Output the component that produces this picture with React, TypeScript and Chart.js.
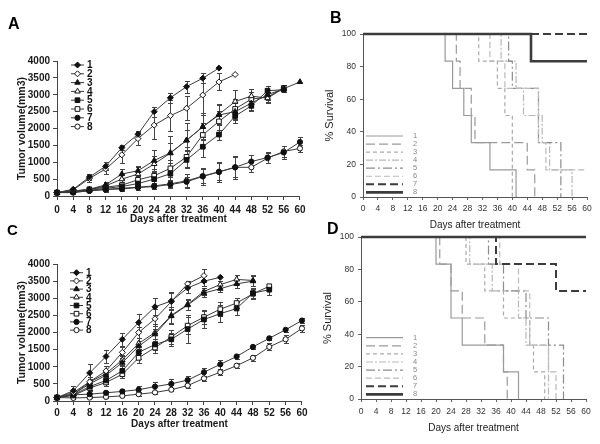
import React, { useEffect, useRef } from "react";
import { Chart, registerables } from "chart.js";
import { drawPoint } from "chart.js/helpers";
Chart.register(...registerables);

const FONT = "'Liberation Sans', Arial, Helvetica, sans-serif";

// ---------- shared ----------
const DAYS = [0, 4, 8, 12, 16, 20, 24, 28, 32, 36, 40, 44, 48, 52, 56, 60];
const GROUPS = ["1", "2", "3", "4", "5", "6", "7", "8"];

// ---------- Panel A : tumor volume ----------
const A_1 = [100, 200, 560, 880, 1430, 1830, 2500, 2910, 3240, 3490, 3790];
const A_1_ERR = [20, 40, 80, 120, 80, 100, 150, 150, 180, 150, 0];
const A_2 = [100, 180, 520, 800, 1220, 1700, 2100, 2380, 2600, 2990, 3380, 3600];
const A_2_ERR = [20, 30, 100, 150, 250, 200, 400, 450, 350, 520, 250, 0];
const A_3 = [100, 150, 200, 330, 650, 750, 1050, 1280, 1650, 2050, 2400, 2500, 2750, 3000, 3180, 3380];
const A_3_ERR = [20, 30, 50, 80, 150, 150, 300, 500, 500, 400, 300, 250, 200, 150, 100, 0];
const A_4 = [100, 140, 190, 300, 500, 650, 950, 1270, 1650, 2050, 2420, 2800, 2960, 2900, 3190];
const A_4_ERR = [20, 30, 50, 80, 150, 200, 250, 300, 300, 350, 300, 350, 200, 150, 100];
const A_5 = [100, 120, 170, 230, 280, 370, 500, 660, 1070, 1460, 1820, 2370, 2670, 3120, 3150];
const A_5_ERR = [20, 20, 40, 60, 80, 120, 150, 200, 250, 300, 150, 200, 150, 150, 0];
const A_6 = [100, 130, 200, 260, 320, 480, 600, 820, 1160, 1810, 2210, 2580, 2870, 2930, 3200];
const A_6_ERR = [20, 30, 50, 80, 100, 150, 200, 250, 300, 350, 300, 300, 200, 150, 0];
const A_7 = [100, 110, 150, 190, 210, 250, 280, 340, 420, 580, 710, 850, 1020, 1140, 1290, 1600];
const A_7_ERR = [20, 20, 40, 60, 60, 80, 80, 100, 150, 250, 300, 350, 200, 150, 200, 150];
const A_8 = [100, 100, 160, 200, 230, 260, 300, 360, 450, 590, 720, 850, 850, 1120, 1320, 1410];
const A_8_ERR = [20, 20, 40, 60, 60, 80, 80, 100, 200, 200, 250, 300, 150, 150, 150, 100];

// ---------- Panel C : tumor volume ----------
const C_1 = [100, 300, 820, 1300, 1800, 2290, 2750, 2920, 3300, 3500, 3610];
const C_1_ERR = [30, 150, 250, 200, 200, 250, 250, 250, 150, 150, 0];
const C_2 = [100, 250, 560, 880, 1420, 2000, 2400, 2900, 3420, 3660];
const C_2_ERR = [30, 100, 150, 150, 150, 150, 300, 250, 80, 200];
const C_3 = [100, 200, 500, 750, 1120, 1600, 1950, 2480, 2800, 3150, 3280, 3420, 3500];
const C_3_ERR = [30, 80, 100, 100, 200, 150, 250, 200, 150, 100, 100, 120, 150];
const C_4 = [100, 200, 550, 800, 1200, 1680, 2000, 2500, 2820, 3200, 3400, 3550, 3520];
const C_4_ERR = [30, 80, 100, 100, 150, 150, 250, 250, 150, 100, 100, 120, 150];
const C_5 = [100, 180, 420, 600, 880, 1420, 1650, 1800, 2100, 2380, 2550, 2700, 3150, 3250];
const C_5_ERR = [30, 60, 100, 100, 150, 200, 150, 200, 400, 250, 250, 200, 150, 150];
const C_6 = [100, 160, 380, 540, 780, 1260, 1560, 1870, 2200, 2450, 2680, 2860, 3130, 3350];
const C_6_ERR = [30, 60, 100, 100, 120, 150, 150, 200, 250, 200, 200, 150, 150, 80];
const C_7 = [100, 180, 200, 240, 280, 330, 420, 500, 610, 840, 1070, 1300, 1580, 1830, 2080, 2350];
const C_7_ERR = [20, 60, 40, 40, 60, 100, 130, 150, 130, 130, 130, 80, 60, 60, 60, 80];
const C_8 = [100, 90, 100, 120, 150, 200, 250, 330, 450, 660, 840, 1030, 1260, 1580, 1800, 2120];
const C_8_ERR = [20, 20, 20, 30, 40, 50, 50, 50, 60, 80, 80, 80, 80, 100, 120, 100];

// ---------- Panel B : survival (event days / % surviving) ----------
const B_DAYS = [
  [0, 22, 24, 27, 29, 34, 41],
  [0, 25, 26, 29, 30, 44, 46],
  [0, 31, 36, 38, 40],
  [0, 37, 41, 43, 48, 50, 56],
  [0, 39, 40, 47, 53],
  [0, 34, 38, 47, 49, 60],
  [0, 60],
  [0, 45, 60],
];
const B_PCT = [
  [100, 83.3, 66.7, 50, 33.3, 16.7, 0],
  [100, 83.3, 66.7, 50, 33.3, 16.7, 0],
  [100, 83.3, 66.7, 50, 0],
  [100, 83.3, 66.7, 50, 33.3, 16.7, 0],
  [100, 83.3, 66.7, 33.3, 0],
  [100, 83.3, 66.7, 33.3, 16.7, 16.7],
  [100, 100],
  [100, 83.3, 83.3],
];

// ---------- Panel D : survival ----------
const D_DAYS = [
  [0, 20, 24, 27, 38, 42],
  [0, 21, 24, 27, 33, 38, 39],
  [0, 28, 33, 38, 45, 46, 49],
  [0, 29, 35, 42, 44, 50],
  [0, 34, 38, 44, 50, 54],
  [0, 37, 42, 45, 50, 52],
  [0, 36, 52, 60],
  [0, 60],
];
const D_PCT = [
  [100, 83.3, 50, 33.3, 16.7, 0],
  [100, 83.3, 66.7, 50, 33.3, 16.7, 0],
  [100, 83.3, 66.7, 50, 33.3, 16.7, 0],
  [100, 83.3, 66.7, 50, 33.3, 0],
  [100, 83.3, 66.7, 50, 33.3, 0],
  [100, 83.3, 66.7, 33.3, 16.7, 0],
  [100, 83.3, 66.7, 66.7],
  [100, 100],
];

// ---------- styles ----------
const MARKER_STYLE = ["rectRot", "rectRot", "triangle", "triangle", "rect", "rect", "circle", "circle"];
const MARKER_FILLED = [true, false, true, false, true, false, true, false];
const MARKER_RADIUS = [3, 3, 3.2, 3.2, 3.3, 3.3, 2.6, 2.6];
const LINE_COLOR = "#3a3a3a";

const SURV_COLOR = ["#9a9a9a", "#9a9a9a", "#aaaaaa", "#b8b8b8", "#8c8c8c", "#bbbbbb", "#3c3c3c", "#3c3c3c"];
const SURV_DASH = [[], [9, 4], [4, 3], [7, 2, 2, 2], [9, 3, 2, 3], [6, 3], [8, 4], []];
const SURV_WIDTH = [1.2, 1.2, 1.2, 1.2, 1.2, 1.2, 2, 2.6];

const plainTick = (v: any) => String(v);

// ---------- plugins ----------
const errorBarPlugin = {
  id: "errorBars",
  beforeDatasetsDraw(chart: any) {
    const ctx = chart.ctx;
    const ys = chart.scales.y;
    ctx.save();
    ctx.strokeStyle = "#444";
    ctx.lineWidth = 1;
    chart.data.datasets.forEach((ds: any, di: number) => {
      const errs = ds.errors;
      if (!errs) return;
      const meta = chart.getDatasetMeta(di);
      meta.data.forEach((pt: any, i: number) => {
        const e = errs[i];
        if (!e) return;
        const v = ds.data[i].y;
        const x = Math.round(pt.x) + 0.5;
        const yt = Math.round(ys.getPixelForValue(v + e)) + 0.5;
        const yb = Math.round(ys.getPixelForValue(Math.max(0, v - e))) + 0.5;
        ctx.beginPath();
        ctx.moveTo(x, yt);
        ctx.lineTo(x, yb);
        ctx.moveTo(x - 2.5, yt);
        ctx.lineTo(x + 2.5, yt);
        ctx.moveTo(x - 2.5, yb);
        ctx.lineTo(x + 2.5, yb);
        ctx.stroke();
      });
    });
    ctx.restore();
  },
};

function letterPlugin(letter: string, x: number, y: number, size: number) {
  return {
    id: "letter" + letter,
    afterDraw(chart: any) {
      const ctx = chart.ctx;
      ctx.save();
      ctx.fillStyle = "#000";
      ctx.font = `bold ${size}px ${FONT}`;
      ctx.textBaseline = "top";
      ctx.textAlign = "left";
      ctx.fillText(letter, x, y);
      ctx.restore();
    },
  };
}

function growthLegendPlugin(x0: number, y0: number, dy: number) {
  return {
    id: "gLegend",
    afterDraw(chart: any) {
      const ctx = chart.ctx;
      ctx.save();
      chart.data.datasets.forEach((ds: any, i: number) => {
        const y = y0 + i * dy;
        ctx.setLineDash([]);
        ctx.strokeStyle = LINE_COLOR;
        ctx.lineWidth = 1;
        ctx.beginPath();
        ctx.moveTo(x0, y);
        ctx.lineTo(x0 + 13, y);
        ctx.stroke();
        ctx.fillStyle = ds.pointBackgroundColor;
        ctx.strokeStyle = ds.pointBorderColor;
        drawPoint(ctx, { pointStyle: ds.pointStyle, radius: ds.pointRadius, rotation: 0, borderWidth: 1 } as any, x0 + 6.5, y);
        ctx.fillStyle = "#111";
        ctx.font = `bold 10px ${FONT}`;
        ctx.textBaseline = "middle";
        ctx.textAlign = "left";
        ctx.fillText(ds.label, x0 + 16, y + 0.5);
      });
      ctx.restore();
    },
  };
}

function survLegendPlugin(x0: number, y0: number, dy: number) {
  return {
    id: "sLegend",
    afterDraw(chart: any) {
      const ctx = chart.ctx;
      ctx.save();
      chart.data.datasets.forEach((ds: any, i: number) => {
        const y = y0 + i * dy;
        ctx.setLineDash(ds.borderDash || []);
        ctx.strokeStyle = ds.borderColor;
        ctx.lineWidth = ds.borderWidth;
        ctx.beginPath();
        ctx.moveTo(x0, y);
        ctx.lineTo(x0 + 37, y);
        ctx.stroke();
        ctx.setLineDash([]);
        ctx.fillStyle = "#888";
        ctx.font = `7.5px ${FONT}`;
        ctx.textBaseline = "middle";
        ctx.textAlign = "left";
        ctx.fillText(ds.label, x0 + 47, y);
      });
      ctx.restore();
    },
  };
}

// ---------- config builders ----------
function growthDatasets(series: number[][], errors: number[][]) {
  return series.map((vals, i) => ({
    label: GROUPS[i],
    data: vals.map((v, k) => ({ x: DAYS[k], y: v })),
    errors: errors[i],
    borderColor: LINE_COLOR,
    borderWidth: 1,
    pointStyle: MARKER_STYLE[i],
    pointRadius: MARKER_RADIUS[i],
    pointBackgroundColor: MARKER_FILLED[i] ? "#111" : "#fff",
    pointBorderColor: "#111",
    pointBorderWidth: 1,
    tension: 0,
    clip: false,
  }));
}

function survDatasets(days: number[][], pct: number[][]) {
  return days.map((ds, i) => ({
    label: GROUPS[i],
    data: ds.map((d, k) => ({ x: d, y: pct[i][k] })),
    stepped: true,
    borderColor: SURV_COLOR[i],
    borderDash: SURV_DASH[i],
    borderWidth: SURV_WIDTH[i],
    pointRadius: 0,
    order: 7 - i,
    clip: false,
  }));
}

function growthConfig(opts: any) {
  const { datasets, padTop, padRight, yWidth, xHeight, xTickPad, xTitlePadBottom, letter, legend } = opts;
  return {
    type: "line",
    data: { datasets },
    options: {
      animation: false,
      responsive: false,
      maintainAspectRatio: false,
      devicePixelRatio: 1,
      events: [],
      layout: { padding: { left: 0, right: padRight, top: padTop, bottom: 0 } },
      plugins: { legend: { display: false }, tooltip: { enabled: false } },
      scales: {
        x: {
          type: "linear",
          min: 0,
          max: 60,
          afterFit: (s: any) => {
            s.height = xHeight;
          },
          ticks: {
            stepSize: 4,
            autoSkip: false,
            maxRotation: 0,
            padding: xTickPad,
            color: "#1a1a1a",
            callback: plainTick,
            font: { family: FONT, size: 10, weight: "bold" },
          },
          grid: { drawOnChartArea: false, tickLength: 4, color: "#444" },
          border: { color: "#444", width: 1 },
          title: {
            display: true,
            text: "Days after treatment",
            color: "#1a1a1a",
            font: { family: FONT, size: 10, weight: "bold" },
            padding: { top: 0, bottom: xTitlePadBottom },
          },
        },
        y: {
          min: 0,
          max: 4000,
          afterFit: (s: any) => {
            s.width = yWidth;
          },
          ticks: {
            stepSize: 500,
            padding: 3,
            color: "#1a1a1a",
            callback: plainTick,
            font: { family: FONT, size: 10, weight: "bold" },
          },
          grid: { drawOnChartArea: false, tickLength: 4, color: "#444" },
          border: { color: "#444", width: 1 },
          title: {
            display: true,
            text: "Tumor volume(mm3)",
            color: "#1a1a1a",
            font: { family: FONT, size: 10.5, weight: "bold" },
            padding: { top: 16, bottom: 0 },
          },
        },
      },
    },
    plugins: [errorBarPlugin, growthLegendPlugin(legend[0], legend[1], legend[2]), letterPlugin(letter[0], letter[1], letter[2], letter[3])],
  };
}

function survConfig(opts: any) {
  const { datasets, padTop, padRight, yWidth, xHeight, xTickPad, xTitlePadBottom, yTitlePadTop, letter, legend } = opts;
  return {
    type: "line",
    data: { datasets },
    options: {
      animation: false,
      responsive: false,
      maintainAspectRatio: false,
      devicePixelRatio: 1,
      events: [],
      layout: { padding: { left: 0, right: padRight, top: padTop, bottom: 0 } },
      plugins: { legend: { display: false }, tooltip: { enabled: false } },
      scales: {
        x: {
          type: "linear",
          min: 0,
          max: 60,
          afterFit: (s: any) => {
            s.height = xHeight;
          },
          ticks: {
            stepSize: 4,
            autoSkip: false,
            maxRotation: 0,
            padding: xTickPad,
            color: "#333",
            callback: plainTick,
            font: { family: FONT, size: 8.5 },
          },
          grid: { drawOnChartArea: false, tickLength: 3, color: "#666" },
          border: { color: "#555", width: 1 },
          title: {
            display: true,
            text: "Days after treatment",
            color: "#222",
            font: { family: FONT, size: 10 },
            padding: { top: 0, bottom: xTitlePadBottom },
          },
        },
        y: {
          min: 0,
          max: 100,
          afterFit: (s: any) => {
            s.width = yWidth;
          },
          ticks: {
            stepSize: 20,
            padding: 4,
            color: "#333",
            callback: plainTick,
            font: { family: FONT, size: 8.5 },
          },
          grid: { drawOnChartArea: false, tickLength: 3, color: "#666" },
          border: { color: "#555", width: 1 },
          title: {
            display: true,
            text: "% Survival",
            color: "#222",
            font: { family: FONT, size: 11 },
            padding: { top: yTitlePadTop, bottom: 0 },
          },
        },
      },
    },
    plugins: [survLegendPlugin(legend[0], legend[1], legend[2]), letterPlugin(letter[0], letter[1], letter[2], letter[3])],
  };
}

function ChartBox({ left, top, width, height, make }: any) {
  const ref = useRef<HTMLCanvasElement | null>(null);
  useEffect(() => {
    if (!ref.current) return;
    const chart = new Chart(ref.current, make());
    return () => chart.destroy();
  }, []);
  return (
    <canvas
      ref={ref}
      width={width}
      height={height}
      style={{ position: "absolute", left, top, width, height }}
    />
  );
}

export default function App() {
  return (
    <div style={{ position: "absolute", left: 0, top: 0, width: 600, height: 444, background: "#fff", overflow: "hidden" }}>
      <ChartBox
        left={0}
        top={0}
        width={310}
        height={230}
        make={() =>
          growthConfig({
            datasets: growthDatasets([A_1, A_2, A_3, A_4, A_5, A_6, A_7, A_8], [A_1_ERR, A_2_ERR, A_3_ERR, A_4_ERR, A_5_ERR, A_6_ERR, A_7_ERR, A_8_ERR]),
            padTop: 61,
            padRight: 7,
            yWidth: 57,
            xHeight: 34,
            xTickPad: 4.5,
            xTitlePadBottom: 5,
            letter: ["A", 8, 17, 16],
            legend: [71, 65, 8.8],
          })
        }
      />
      <ChartBox
        left={300}
        top={0}
        width={300}
        height={232}
        make={() =>
          survConfig({
            datasets: survDatasets(B_DAYS, B_PCT),
            padTop: 34,
            padRight: 13,
            yWidth: 63,
            xHeight: 35,
            xTickPad: 4,
            xTitlePadBottom: 1,
            yTitlePadTop: 23,
            letter: ["B", 30, 11, 16],
            legend: [66, 136, 8.05],
          })
        }
      />
      <ChartBox
        left={0}
        top={222}
        width={310}
        height={222}
        make={() =>
          growthConfig({
            datasets: growthDatasets([C_1, C_2, C_3, C_4, C_5, C_6, C_7, C_8], [C_1_ERR, C_2_ERR, C_3_ERR, C_4_ERR, C_5_ERR, C_6_ERR, C_7_ERR, C_8_ERR]),
            padTop: 42,
            padRight: 7,
            yWidth: 57,
            xHeight: 43,
            xTickPad: 2.5,
            xTitlePadBottom: 14,
            letter: ["C", 7, 1, 15],
            legend: [70, 50.7, 8.2],
          })
        }
      />
      <ChartBox
        left={300}
        top={222}
        width={300}
        height={222}
        make={() =>
          survConfig({
            datasets: survDatasets(D_DAYS, D_PCT),
            padTop: 15,
            padRight: 14,
            yWidth: 61,
            xHeight: 45,
            xTickPad: 4.5,
            xTitlePadBottom: 10,
            yTitlePadTop: 21,
            letter: ["D", 27, 0, 16],
            legend: [66, 115.7, 8.1],
          })
        }
      />
    </div>
  );
}
